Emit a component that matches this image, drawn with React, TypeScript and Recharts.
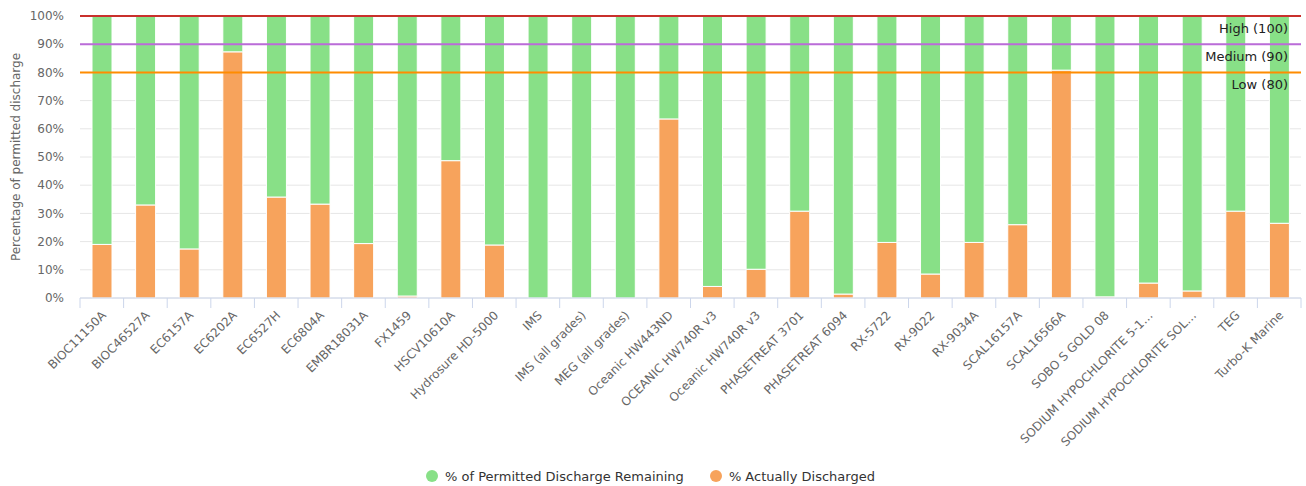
import React from 'react';
import {
  BarChart,
  Bar,
  XAxis,
  YAxis,
  CartesianGrid,
  Legend,
  ReferenceLine,
} from 'recharts';

const categories = [
  'BIOC11150A',
  'BIOC46527A',
  'EC6157A',
  'EC6202A',
  'EC6527H',
  'EC6804A',
  'EMBR18031A',
  'FX1459',
  'HSCV10610A',
  'Hydrosure HD-5000',
  'IMS',
  'IMS (all grades)',
  'MEG (all grades)',
  'Oceanic HW443ND',
  'OCEANIC HW740R v3',
  'Oceanic HW740R v3',
  'PHASETREAT 3701',
  'PHASETREAT 6094',
  'RX-5722',
  'RX-9022',
  'RX-9034A',
  'SCAL16157A',
  'SCAL16566A',
  'SOBO S GOLD 08',
  'SODIUM HYPOCHLORITE 5-1…',
  'SODIUM HYPOCHLORITE SOL…',
  'TEG',
  'Turbo-K Marine',
];

// % actually discharged
const discharged = [
  19, 33, 17.4, 87.3, 35.8, 33.3, 19.3, 0.7, 48.7, 18.8, 0, 0, 0, 63.5,
  4.1, 10.2, 30.8, 1.4, 19.7, 8.5, 19.7, 26, 80.8, 0.4, 5.3, 2.5, 30.8, 26.5,
];

// % of permitted discharge remaining
const remaining = [
  81, 67, 82.6, 12.7, 64.2, 66.7, 80.7, 99.3, 51.3, 81.2, 100, 100, 100, 36.5,
  95.9, 89.8, 69.2, 98.6, 80.3, 91.5, 80.3, 74, 19.2, 99.6, 94.7, 97.5, 69.2, 73.5,
];

const yTicks = [0, 10, 20, 30, 40, 50, 60, 70, 80, 90, 100];

const thresholds = [
  { value: 100, label: 'High (100)', color: '#c9302c' },
  { value: 90, label: 'Medium (90)', color: '#bb6bd9' },
  { value: 80, label: 'Low (80)', color: '#ff8c00' },
];

const GREEN = '#88e087';
const ORANGE = '#f7a35c';
const FONT = '"DejaVu Sans", sans-serif';

const WIDTH = 1306;
const HEIGHT = 486;
const PLOT_LEFT = 80;
const PLOT_RIGHT = 5;
const BAND = (WIDTH - PLOT_LEFT - PLOT_RIGHT) / categories.length;

const data = categories.map((name, i) => ({
  name,
  discharged: discharged[i],
  remaining: remaining[i],
}));

const XTick = (props: any) => {
  const { x, y, payload, index } = props;
  const lx = x + 5;
  const ly = y + 18;
  return (
    <g>
      <line x1={x - BAND / 2} x2={x - BAND / 2} y1={y} y2={y + 10} stroke="#ccd6eb" />
      {index === categories.length - 1 && (
        <line x1={x + BAND / 2} x2={x + BAND / 2} y1={y} y2={y + 10} stroke="#ccd6eb" />
      )}
      <text
        x={lx}
        y={ly}
        transform={`rotate(-45, ${lx}, ${ly})`}
        textAnchor="end"
        fontSize={12}
        fontFamily={FONT}
        fill="#666666"
      >
        {payload.value}
      </text>
    </g>
  );
};

const RefLabel = (props: any) => {
  const { viewBox, text } = props;
  const x = viewBox.x + viewBox.width - 13;
  const y = viewBox.y + 17;
  return (
    <text x={x} y={y} textAnchor="end" fontSize={13} fontFamily={FONT} fill="#222222">
      {text}
    </text>
  );
};

const YTitle = (props: any) => {
  const { viewBox } = props;
  const cx = 16;
  const cy = viewBox.y + viewBox.height / 2;
  return (
    <text
      x={cx}
      y={cy}
      transform={`rotate(-90, ${cx}, ${cy})`}
      textAnchor="middle"
      dominantBaseline="central"
      fontSize={12}
      fontFamily={FONT}
      fill="#666666"
    >
      Percentage of permitted discharge
    </text>
  );
};

const LegendContent = () => (
  <div
    style={{
      height: 38,
      display: 'flex',
      justifyContent: 'center',
      alignItems: 'flex-end',
      fontFamily: FONT,
      fontSize: 13,
      color: '#333333',
    }}
  >
    {[
      { label: '% of Permitted Discharge Remaining', color: GREEN },
      { label: '% Actually Discharged', color: ORANGE },
    ].map((item) => (
      <div key={item.label} style={{ display: 'flex', alignItems: 'center', margin: '0 13px', height: 20 }}>
        <span
          style={{
            width: 12,
            height: 12,
            borderRadius: 6,
            background: item.color,
            display: 'inline-block',
            marginRight: 7,
          }}
        />
        <span>{item.label}</span>
      </div>
    ))}
  </div>
);

export default function App() {
  return (
    <div style={{ position: 'absolute', left: 0, top: 0, width: WIDTH, height: HEIGHT, background: '#fff' }}>
      <BarChart
        width={WIDTH}
        height={HEIGHT}
        data={data}
        margin={{ top: 16, right: PLOT_RIGHT, left: 0, bottom: 0 }}
      >
        <CartesianGrid vertical={false} stroke="#e6e6e6" />
        <XAxis
          dataKey="name"
          interval={0}
          height={150}
          tickSize={0}
          tickMargin={0}
          tickLine={false}
          axisLine={{ stroke: '#ccd6eb' }}
          tick={<XTick />}
        />
        <YAxis
          width={PLOT_LEFT}
          domain={[0, 100]}
          ticks={yTicks}
          interval={0}
          axisLine={false}
          tickLine={false}
          tickSize={0}
          tickMargin={16}
          tickFormatter={(v: number) => `${v}%`}
          tick={{ fontSize: 12, fontFamily: FONT, fill: '#666666' }}
          label={<YTitle />}
        />
        <Legend verticalAlign="bottom" height={38} content={<LegendContent />} />
        <Bar
          dataKey="discharged"
          stackId="a"
          fill={ORANGE}
          stroke="#ffffff"
          strokeWidth={1}
          barSize={20}
          isAnimationActive={false}
        />
        <Bar
          dataKey="remaining"
          stackId="a"
          fill={GREEN}
          stroke="#ffffff"
          strokeWidth={1}
          barSize={20}
          isAnimationActive={false}
        />
        {thresholds.map((t) => (
          <ReferenceLine
            key={t.value}
            y={t.value}
            stroke={t.color}
            strokeWidth={2}
            label={<RefLabel text={t.label} />}
          />
        ))}
      </BarChart>
    </div>
  );
}
